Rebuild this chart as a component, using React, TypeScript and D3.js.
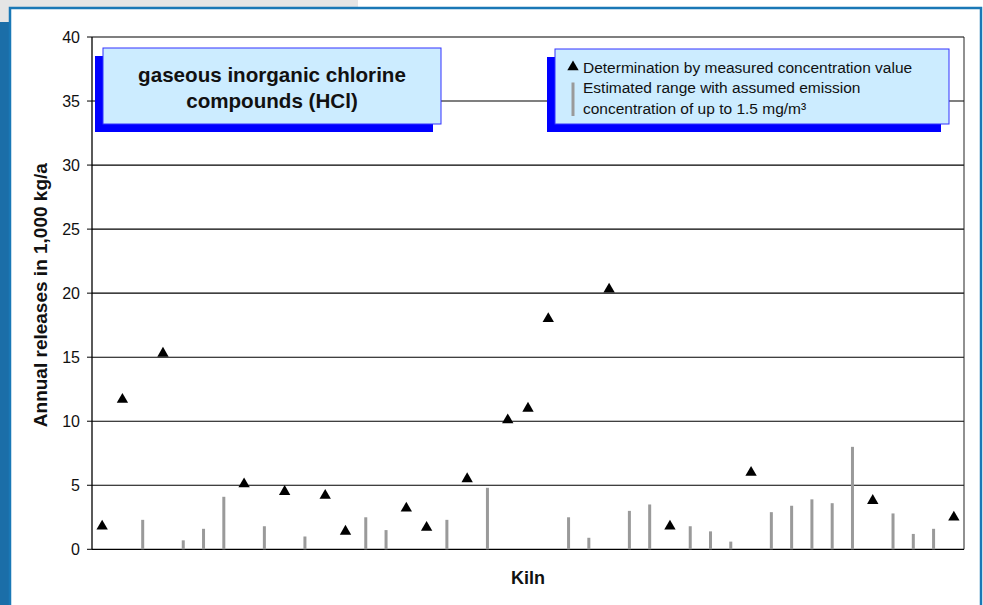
import * as d3 from "d3";

// kiln index 1..43, one entry per kiln
const kilns = d3.range(1, 44).map(String);

// measured annual releases (1,000 kg/a), null where only an estimate exists
const measured: (number | null)[] = [
  1.8, 11.7, null, 15.3, null, null, null, 5.1, null, 4.5,
  null, 4.2, 1.4, null, null, 3.2, 1.7, null, 5.5, null,
  10.1, 11.0, 18.0, null, null, 20.3, null, null, 1.8, null,
  null, null, 6.0, null, null, null, null, null, 3.8, null,
  null, null, 2.5,
];

// estimated upper bound (assumed 1.5 mg/m³), null where measured
const estimated: (number | null)[] = [
  null, null, 2.3, null, 0.7, 1.6, 4.1, null, 1.8, null,
  1.0, null, null, 2.5, 1.5, null, null, 2.3, null, 4.8,
  null, null, null, 2.5, 0.9, null, 3.0, 3.5, null, 1.8,
  1.4, 0.6, null, 2.9, 3.4, 3.9, 3.6, 8.0, null, 2.8,
  1.2, 1.6, null,
];

const yTicks = [0, 5, 10, 15, 20, 25, 30, 35, 40];

const W = 983;
const H = 605;
const plot = { left: 92, right: 964, top: 37, bottom: 549.3 };
const font = "Arial, 'Liberation Sans', Helvetica, sans-serif";

export default function App() {
  const x = d3.scaleBand().domain(kilns).range([plot.left, plot.right]);
  const y = d3.scaleLinear().domain([0, 40]).range([plot.bottom, plot.top]);
  const cx = (i: number) => x(kilns[i])! + x.bandwidth() / 2;
  const tri = d3.symbol().type(d3.symbolTriangle).size(56)()!;

  return (
    <svg
      width={W}
      height={H}
      style={{ position: "absolute", left: 0, top: 0, background: "#fff" }}
      fontFamily={font}
    >
      {/* slide frame */}
      <rect x={0} y={0} width={358} height={9} fill="#e5e5e5" />
      <rect x={0} y={0} width={11} height={22} fill="#e5e5e5" />
      <rect x={0} y={22} width={10} height={H - 22} fill="#1b6ea8" />
      <rect x={10} y={8} width={971} height={H} fill="#fff" stroke="#1a78b6" strokeWidth={2.5} />

      {/* gridlines */}
      {yTicks.slice(1).map((t) => (
        <line key={t} x1={plot.left} x2={plot.right} y1={y(t)} y2={y(t)} stroke="#000" strokeWidth={1.1} />
      ))}
      <line x1={plot.right} x2={plot.right} y1={plot.top} y2={plot.bottom} stroke="#222" />

      {/* y axis */}
      <line x1={plot.left} x2={plot.left} y1={plot.top} y2={plot.bottom} stroke="#000" strokeWidth={1.3} />
      <line x1={plot.left} x2={plot.right} y1={plot.bottom} y2={plot.bottom} stroke="#000" strokeWidth={1.3} />
      {yTicks.map((t) => (
        <g key={t}>
          <line x1={87} x2={plot.left} y1={y(t)} y2={y(t)} stroke="#000" />
          <text x={80} y={y(t)} dy="0.35em" textAnchor="end" fontSize={16} fill="#111">
            {t}
          </text>
        </g>
      ))}

      {/* estimated range bars */}
      {estimated.map((v, i) =>
        v == null ? null : (
          <rect key={i} x={cx(i) - 1.5} y={y(v)} width={3} height={y(0) - y(v)} fill="#9a9a9a" />
        )
      )}

      {/* measured values */}
      {measured.map((v, i) =>
        v == null ? null : <path key={i} d={tri} transform={`translate(${cx(i)},${y(v)})`} fill="#000" />
      )}

      {/* axis titles */}
      <text
        transform={`translate(47,${(plot.top + plot.bottom) / 2 + 2}) rotate(-90)`}
        textAnchor="middle"
        fontSize={19}
        fontWeight="bold"
        fill="#111"
      >
        Annual releases in 1,000 kg/a
      </text>
      <text x={528} y={584} textAnchor="middle" fontSize={18} fontWeight="bold" fill="#111">
        Kiln
      </text>

      {/* title box */}
      <rect x={95} y={56} width={338} height={76} fill="#0000ff" />
      <rect x={103} y={48} width={338} height={76} fill="#ccecff" stroke="#3333ff" strokeWidth={1} />
      <text textAnchor="middle" fontSize={20.6} fontWeight="bold" fill="#111">
        <tspan x={272} y={82}>gaseous inorganic chlorine</tspan>
        <tspan x={272} y={107.5}>compounds (HCl)</tspan>
      </text>

      {/* legend */}
      <rect x={547} y={57} width={394} height={75} fill="#0000ff" />
      <rect x={555} y={49} width={394} height={75} fill="#ccecff" stroke="#3333ff" strokeWidth={1} />
      <path d={tri} transform="translate(573,67)" fill="#000" />
      <rect x={571.5} y={82.5} width={3} height={33.5} fill="#9a9a9a" />
      <text fontSize={15.5} fill="#111">
        <tspan x={583} y={72.5}>Determination by measured concentration value</tspan>
        <tspan x={583} y={93}>Estimated range with assumed emission</tspan>
        <tspan x={583} y={113.5}>concentration of up to 1.5 mg/m³</tspan>
      </text>
    </svg>
  );
}
